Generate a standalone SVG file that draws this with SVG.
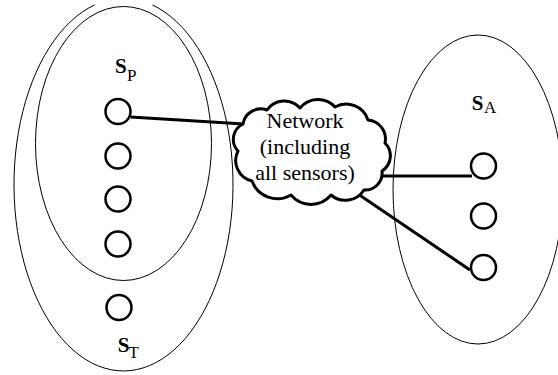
<svg xmlns="http://www.w3.org/2000/svg" width="558" height="375" viewBox="0 0 558 375">
  <rect width="558" height="375" fill="#fff"/>
  <g id="set-ST">
    <path d="M152.5,5 A109.5,186.3 0 1 1 94.5,5" fill="none" stroke="#000" stroke-width="1"/>
  </g>
  <g id="set-SP">
    <ellipse cx="123.5" cy="143.5" rx="88" ry="137" fill="none" stroke="#000" stroke-width="1"/>
  </g>
  <g id="set-SA">
    <ellipse cx="478" cy="189.5" rx="85" ry="154.5" fill="none" stroke="#000" stroke-width="1"/>
  </g>
  <g id="connectors" stroke="#000" stroke-width="3" fill="none">
    <line x1="130.5" y1="117" x2="244" y2="124"/>
    <line x1="380" y1="176" x2="472" y2="176"/>
    <line x1="358" y1="194" x2="470" y2="270"/>
  </g>
  <g id="network">
    <path fill="#fff" stroke="#000" stroke-width="3" stroke-linejoin="round" d="M243,124 A18,18 0 0 1 267,110 A21,21 0 0 1 300,108 A23,23 0 0 1 335,107 A23,23 0 0 1 368,120 A19,19 0 0 1 385,143 A18,18 0 0 1 382,171 A17,17 0 0 1 364,190 A22,22 0 0 1 331,195 A26,26 0 0 1 291,195 A27,27 0 0 1 252,181 A21,21 0 0 1 238,151 A17,17 0 0 1 243,124 Z"/>
  </g>
  <g id="sensors" fill="#fff" stroke="#000" stroke-width="2.5">
    <g id="sensor-p1"><circle cx="118" cy="111.5" r="12.5"/></g>
    <g id="sensor-p2"><circle cx="118" cy="156" r="12.5"/></g>
    <g id="sensor-p3"><circle cx="118" cy="199" r="12.5"/></g>
    <g id="sensor-p4"><circle cx="118" cy="244" r="12.5"/></g>
    <g id="sensor-t1"><circle cx="119" cy="307.5" r="12.5"/></g>
    <g id="sensor-a1"><circle cx="483.5" cy="166" r="12.5"/></g>
    <g id="sensor-a2"><circle cx="483.5" cy="216" r="12.5"/></g>
    <g id="sensor-a3"><circle cx="483.5" cy="267.5" r="12.5"/></g>
  </g>
  <text x="305" y="128" font-family="Times New Roman" font-size="22" text-anchor="middle">Network</text>
  <text x="305" y="154" font-family="Times New Roman" font-size="22" text-anchor="middle">(including</text>
  <text x="305" y="180" font-family="Times New Roman" font-size="22" text-anchor="middle">all sensors)</text>
  <text x="115" y="73" font-family="Times New Roman" font-weight="bold" font-size="21">S</text>
  <text x="127" y="81" font-family="Times New Roman" font-size="17">P</text>
  <text x="471.7" y="110" font-family="Times New Roman" font-weight="bold" font-size="21">S</text>
  <text x="484" y="112.7" font-family="Times New Roman" font-size="17">A</text>
  <text x="117.7" y="351.7" font-family="Times New Roman" font-weight="bold" font-size="21">S</text>
  <text x="128.5" y="358" font-family="Times New Roman" font-size="17">T</text>
</svg>
